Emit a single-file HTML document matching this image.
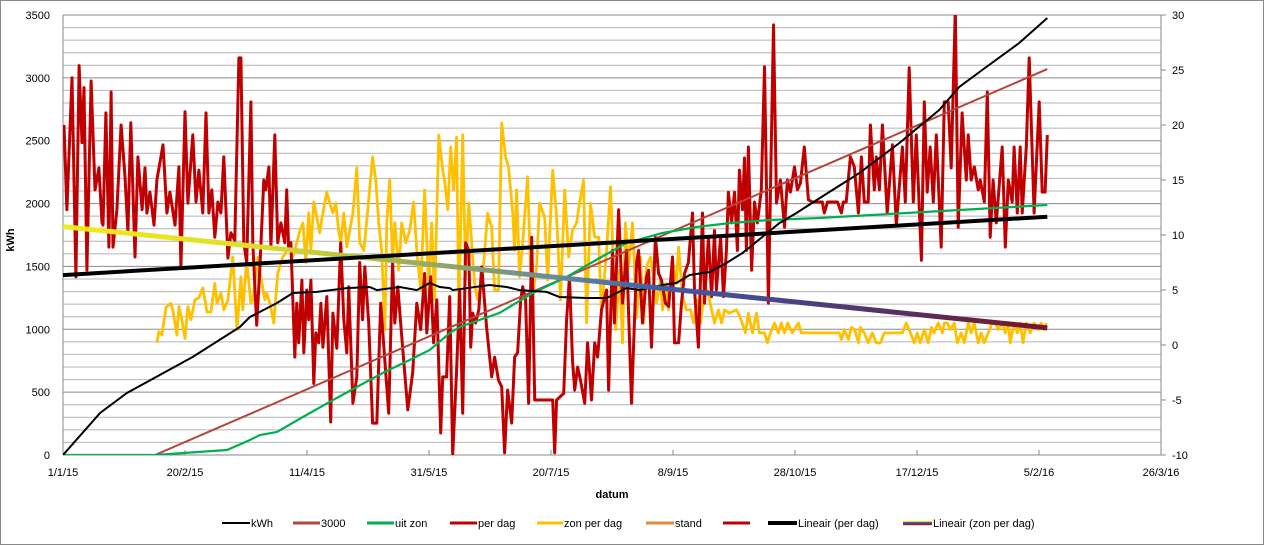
<!DOCTYPE html>
<html><head><meta charset="utf-8"><style>
html,body{margin:0;padding:0;background:#fff;}
svg{display:block;font-family:"Liberation Sans",sans-serif;}
</style></head><body>
<svg id="chart" width="1264" height="545" viewBox="0 0 1264 545" xmlns="http://www.w3.org/2000/svg">
<defs>
<clipPath id="plotClip"><rect x="63" y="15" width="1098" height="440"/></clipPath>
<linearGradient id="zonTrendGrad" gradientUnits="userSpaceOnUse" x1="63" y1="0" x2="1048" y2="0">
<stop offset="0" stop-color="#f2ea1e"/><stop offset="0.2" stop-color="#dede2a"/><stop offset="0.35" stop-color="#9eb055"/>
<stop offset="0.5" stop-color="#6a8a98"/><stop offset="0.6" stop-color="#3d5fa8"/><stop offset="0.75" stop-color="#4c3f80"/>
<stop offset="0.88" stop-color="#5c2a55"/><stop offset="1" stop-color="#7c1428"/>
</linearGradient>
</defs>
<rect x="0.5" y="0.5" width="1263" height="544" fill="#fff" stroke="#888"/>
<g id="grid"></g>
<g id="axes"></g>
<g id="series" clip-path="url(#plotClip)"></g>
<text x="14" y="240" transform="rotate(-90 14 240)" text-anchor="middle" font-size="11" font-weight="bold">kWh</text>
<text x="612" y="498" text-anchor="middle" font-size="11" font-weight="bold">datum</text>
<g id="legend"></g>
</svg>
<script>
const xTickLabels = ["1/1/15","20/2/15","11/4/15","31/5/15","20/7/15","8/9/15","28/10/15","17/12/15","5/2/16","26/3/16"];
const leftTicks = [0,500,1000,1500,2000,2500,3000,3500];
const rightTicks = [-10,-5,0,5,10,15,20,25,30];

const kwhDay = [0,15.2,26.2,53.2,72.5,76.6,80.7,87.7,94.2,104,116.3,125.7,128.6,138,145,150.3,154.4,158.5,159.7,174.8,181.8,187.1,198.2,203.5,214.6,222.8,226.9,231,236.3,245.7,251.4,256.8,265,271.9,278.5,286.6,293.6,300.6,308.8,326.4,342.8,359.1,367.3,378.4,391.9,403.4];
const kwhVal = [0,334,493,780,1018,1098,1138,1209,1289,1297,1328,1336,1312,1336,1312,1368,1336,1328,1312,1352,1336,1312,1297,1257,1249,1249,1289,1328,1312,1352,1368,1432,1456,1527,1607,1734,1845,1925,2028,2243,2482,2744,2927,3086,3277,3476];

const refDay = [37.7,403.4];
const refVal = [0,3070];

const uitZonDay = [0,37.7,67.2,76.6,80.7,87.7,98.3,110.6,120.4,131,142.1,150.3,158.5,162.6,178.9,192.5,206.4,219.9,230.9,245.7,259.6,273.1,289.5,310,403.4];
const uitZonVal = [0,0,40,119,159,183,302,437,541,652,756,835,970,1018,1130,1289,1416,1567,1686,1766,1814,1845,1869,1885,1989];

const perDagDay = [0.4,1.6,3.7,5.3,6.6,7.8,8.6,9.8,11.5,13.1,14.7,16,16.4,17.6,18.8,19.7,20.5,22.1,23.8,25.4,26.6,27.8,29.5,30.7,32.4,33.6,34.4,35.6,37.3,38.5,41,42.6,43.8,45.9,47.5,48.3,50,51.2,53.2,54.5,55.7,57.3,58.6,59.8,61,62.2,63.5,64.7,65.9,67.6,68.8,70.4,72.1,72.9,74.1,75.3,77,77.8,79.4,80.7,82.3,83.1,84.4,85.2,86.8,88,89.3,90.9,91.7,92.5,93.4,95,95.8,96.6,97.9,98.7,99.9,100.7,101.6,102.8,103.6,104.8,105.7,106.5,108.1,109.7,110.6,111.8,112.2,113.8,115.1,116.3,117.1,118.8,120.4,121.6,122.8,123.7,125.3,126.9,128.6,130.2,131.8,133.5,135.1,136,137.2,139.2,141.3,143.3,145,146.6,148.2,149.1,150.7,151.9,153.2,154.8,155.6,157.2,158.5,159.7,161.3,162.6,163.8,165,166.3,167.1,167.9,169.1,170.4,171.6,173.6,175.7,176.9,178.5,179.8,181,182.2,183.9,185.1,186.3,187.6,188.4,189.6,190.8,192.1,193.3,200.7,201.5,202.3,205.2,206.4,207.6,208.8,209.7,210.9,212.1,213.8,215,216.6,217.9,219.1,220.7,222.8,223.6,225.2,226,227.7,229.3,231,233,235.1,235.9,237.5,239.1,240,241.2,242.8,244.1,245.3,246.9,248.2,249.8,250.6,252.3,253.5,254.7,256.3,258,258.8,260.4,262.1,262.9,264.5,265.8,267,267.8,269.5,270.7,271.9,272.7,274,275.2,276.4,277.2,278.5,279.3,280.1,280.9,282.2,283.4,284.6,286.2,287.5,289.1,291.2,292.4,294,295.7,296.9,298.1,299.8,301,302.2,303.8,305.5,307.1,311.2,312,313.3,317.4,319,319.8,321,322.7,324.3,326,327.2,328.4,330,330.9,332.5,333.3,334.6,335.8,337.8,339.9,341.5,344,345.2,346.8,348.5,349.7,351.8,353,354.2,355.4,356.7,357.9,359.9,361.2,362.8,364,365.7,366.9,368.5,370.2,371,372.2,373.5,375.1,375.9,377.6,378.8,380,381.2,382.5,384.9,386.2,387.4,389,389.8,391.1,392.3,393.1,394.8,396,398,400.1,401.3,402.5,403.4];
const perDagVal = [20,12.3,24.3,6.2,25.4,18.4,23.4,6.8,24,14.1,16.1,11.1,10.9,21.1,8.9,23,8.9,12.3,20,15.3,10.3,20.2,8,17.1,12.3,16.1,12,13.9,10.9,15,18.2,12,13.9,10.9,16.2,7,21.2,12.9,19.1,13,15.9,12,21.1,12,14.1,9.8,13,12,17.1,7.9,10.2,9.5,26.1,26.1,9.3,7.5,22.1,9.3,1.8,7.1,15,14.1,16.2,8.9,19.1,9.3,11.1,9.3,14.1,8.6,9.3,-1.1,3.8,0.2,5.9,-0.7,5,2.3,5.9,-3.5,1.1,0.2,3.8,-0.2,4.4,-7,2.9,0.5,-0.3,9.3,2.3,-0.7,5.3,-5.3,-2.9,7.5,2.3,7.1,2,-7.1,-7.1,3.8,-1.1,-6.2,7.5,2,5.3,-0.2,-5.9,-2.5,3.8,1.4,6.5,1.1,6.2,0.2,4.1,-8,-2.9,-2.9,4.4,-10,-2.3,5,-6.2,9.3,8.6,-0.2,2.9,2,3.2,7.1,1.6,-2.9,-1.1,-3.2,-3.8,-9.8,-4.1,-7.1,-1.1,-0.7,4.1,5.3,4.1,-5.3,9.8,-5,-5,-9.8,-5,-4.4,2.3,6.2,-1.4,-4.1,-2,-3.2,-5.3,0.2,-5,0.2,-1.1,3.2,5,-4.1,8.6,2,12.3,3.8,8.6,-5.3,7.5,8.6,2,6.2,6.8,-0.2,9.8,6.5,5.9,3.8,3.5,8,0.2,0.2,3.8,6.5,7.5,12,5,-0.2,12,3.8,9.8,4.4,10.4,5,9.8,4.4,8.6,13.9,11.1,13.9,8.6,15.9,12.3,17,8.6,18,6.8,13,11.1,14.1,25.3,3.8,29.1,12.9,15,10.7,15,13.9,16.2,14.1,14.7,18,13.2,13,13,12,13,13,12,13,13,17.1,16.2,12,17.1,13,13,20,14.1,17.1,14.1,20,12,18.2,10.9,18,13,25.2,13,19.1,7.7,22.1,13.9,18,13,19.1,8.9,22.1,22.1,16.1,30.5,10.7,21.1,15,19.1,15,16.2,14.1,15,13,23,9.8,15,11.1,18,8.9,15,13,18,12,18,12,18,26.1,12,22.1,13.9,13.9,19.1];

const zonDay = [38.5,39.3,40.5,42.2,44.2,45,46.7,47.5,48.7,50,51.2,52.4,54.1,55.7,57.3,59,60.6,62.2,63.1,64.7,65.9,67.6,69.6,71.3,72.9,73.7,75.3,77,77.8,79.9,81.1,82.7,83.5,84.8,86.4,88,90.1,91.3,93,94.2,95.8,97.1,98.3,99.5,100.7,101.6,102.8,104,105.2,106.5,108.1,109.3,110.6,111.8,113,113.8,115.1,116.3,117.5,118.8,120.4,121.6,123.3,124.9,126.9,128.2,129.4,130.6,131.9,132.7,133.9,135.1,136,137.6,138.8,140.5,142.1,143.7,145,146.6,148.2,149.9,151.1,152.3,154,155.6,156.4,157.7,158.9,160.1,161.3,162.2,163.8,165,166.3,167.5,168.7,169.9,172,174,175.7,176.9,178.5,179.8,181.4,182.6,184.3,185.1,185.9,187.1,188.4,190.4,192.1,194.1,195.3,197.4,198.6,200.7,202.3,203.9,205.6,207.2,208.8,210.5,211.7,213.3,214.6,216.2,217.9,219.5,220.7,222.8,224.4,226.5,228.1,229.3,230.5,231.8,233.4,235.1,236.7,237.9,239.1,240.8,242,243.2,244.9,245.7,247.3,248.2,249.8,251.4,252.3,253.9,255.5,257.2,258.4,260,261.3,262.9,264,265.8,267,268.6,269.9,271.1,273.1,276,277.6,279.7,280.9,282.6,284.2,285.4,287.5,288.7,289.9,291.6,293.2,294.4,295.7,297,298.9,301.4,302.6,318.2,319,320.2,321.9,323.1,324.5,326,326.8,328.4,330,331.7,333.3,335,336.6,344,345.6,347.3,348.9,350.1,351.3,353,354.6,355.9,357,358.7,360.4,361.2,362.5,363.6,365.3,366.5,368.1,369.4,371,372.2,373.5,375.1,376.3,377.6,379.2,380.8,382.1,383.3,384.9,386.2,387.4,388.2,389.8,391.1,392.3,393.5,394.8,396.4,398,399.7,400.9,402.1,403];
const zonVal = [0.2,1.2,0.9,3.4,3.8,3.2,0.9,3.5,2.3,0.6,3.5,2.3,4.1,4.3,5.2,3,3,5.6,3.8,4.7,3.2,4.1,8,1.4,6.2,3.2,7.7,3.8,4.1,8,6.2,4.1,4.7,3.8,2,6.5,8,8.4,9.3,8,9.3,10.4,11.1,7.5,12,8.6,13,11.6,10.2,12,13.9,12.9,12,12.9,10.4,9.3,12,8.9,10.4,12,16.1,9.3,8.6,12.3,17.1,15,11.1,8.6,1.4,11.1,15,7.5,11.1,6.8,11.1,9.3,10.4,13,8.6,5,14.1,5,11.1,4.1,19.1,15.9,15,12.3,18,14.1,18.9,3.2,19.1,6.2,12.9,9.3,5.6,4.1,6.2,12,10.7,5,5,20.2,17.1,16.2,12,8.6,14.1,6.2,9.3,15.3,3.8,7.1,12.9,11.6,5.9,15.9,11.6,4.1,14.1,8,10.4,11.1,12.9,15,2,12.9,9.8,9.8,2.9,8.6,14.4,1.4,6.8,0.2,11.1,7.1,11.1,2.5,8,2,7.1,8,6.2,3.8,5.9,3.2,5.6,3.2,7.7,5.6,8.9,4.4,3.2,3.2,2,4.1,2,5,5,3.2,2,3.2,2,3.2,2.9,3.2,2.5,1.1,2.9,1.1,2.9,1.1,1.1,0.2,1.1,2,1.1,2,1.1,2,1.1,2,1.1,1.1,0.5,1.4,0.5,1.6,1.4,0.2,1.6,1.1,0.2,1.1,0.2,0.2,1.1,1.1,2,1.1,0.2,1.1,0.2,1.4,0.2,1.6,1.1,2,1.1,2,2,1.4,2,0.2,1.1,0.2,2,1.1,2,0.2,1.1,0.2,1.1,2,2,1.4,2,1.1,2,0.2,2,1.1,2,0.2,2,1.1,2,1.4,2,1.4,2];

const NS = "http://www.w3.org/2000/svg";
const X0 = 63, X1 = 1161, Y0 = 455, Y1 = 15;
const xScale = d => X0 + d * (X1 - X0) / 450;
const yLeft = v => Y0 - v * (Y0 - Y1) / 3500;
const yRight = v => Y0 - (v + 10) * (Y0 - Y1) / 40;

function mk(tag, attrs, parent) {
  const el = document.createElementNS(NS, tag);
  for (const k in attrs) el.setAttribute(k, attrs[k]);
  parent.appendChild(el);
  return el;
}
const grid = document.getElementById('grid');
const axes = document.getElementById('axes');
const series = document.getElementById('series');
const legend = document.getElementById('legend');

for (let v = 100; v <= 3500; v += 100) {
  const y = yLeft(v);
  const ln = mk('line', {x1: X0, x2: X1, y1: y, y2: y, stroke: v % 500 === 0 ? '#8c8c8c' : '#b4b4b4', 'stroke-width': 1}, grid);
  
  
}
const la = mk('line', {x1: X0, x2: X0, y1: Y1, y2: Y0, stroke: '#888'}, axes);


const ra = mk('line', {x1: X1, x2: X1, y1: Y1, y2: Y0, stroke: '#888'}, axes);


const ba = mk('line', {x1: X0, x2: X1, y1: Y0, y2: Y0, stroke: '#888'}, axes);



leftTicks.forEach(v => {
  const t = mk('text', {x: 50, y: yLeft(v) + 4, 'text-anchor': 'end', 'font-size': 11, fill: '#000'}, axes);
  t.textContent = v;
  
  
});
rightTicks.forEach(v => {
  const t = mk('text', {x: 1172, y: yRight(v) + 4, 'text-anchor': 'start', 'font-size': 11, fill: '#000'}, axes);
  t.textContent = v;
  
  
  const tk = mk('line', {x1: X1, x2: X1 + 5, y1: yRight(v), y2: yRight(v), stroke: '#888'}, axes);
  
  
});
xTickLabels.forEach((lab, i) => {
  const x = xScale(i * 50);
  const t = mk('text', {x: x, y: 476, 'text-anchor': 'middle', 'font-size': 11, fill: '#000'}, axes);
  t.textContent = lab;
  
  
  const tk = mk('line', {x1: x, x2: x, y1: Y0, y2: Y0 - 5, stroke: '#888'}, axes);
  
  
});

function pathFrom(days, vals, yf) {
  return days.map((d, i) => (i ? 'L' : 'M') + xScale(d).toFixed(1) + ' ' + yf(vals[i]).toFixed(1)).join(' ');
}
function regress(xs, ys) {
  const n = xs.length;
  let sx = 0, sy = 0, sxx = 0, sxy = 0;
  for (let i = 0; i < n; i++) { sx += xs[i]; sy += ys[i]; sxx += xs[i] * xs[i]; sxy += xs[i] * ys[i]; }
  const b = (n * sxy - sx * sy) / (n * sxx - sx * sx);
  return {a: (sy - b * sx) / n, b: b};
}

const zonSeries = mk('path', {d: pathFrom(zonDay, zonVal, yRight), fill: 'none', stroke: '#ffc000', 'stroke-width': 2.8, 'stroke-linejoin': 'round'}, series);



const perDag = mk('path', {d: pathFrom(perDagDay, perDagVal, yRight), fill: 'none', stroke: '#c00000', 'stroke-width': 3, 'stroke-linejoin': 'round'}, series);



const ref = mk('path', {d: pathFrom(refDay, refVal, yLeft), fill: 'none', stroke: '#b5453f', 'stroke-width': 2}, series);



const uit = mk('path', {d: pathFrom(uitZonDay, uitZonVal, yLeft), fill: 'none', stroke: '#00b050', 'stroke-width': 2.2}, series);



const kwh = mk('path', {d: pathFrom(kwhDay, kwhVal, yLeft), fill: 'none', stroke: '#000', 'stroke-width': 2}, series);



const endDay = perDagDay[perDagDay.length - 1];
const rz = regress(zonDay, zonVal);
const zt = mk('line', {x1: xScale(0), y1: yRight(rz.a), x2: xScale(endDay), y2: yRight(rz.a + rz.b * endDay), stroke: 'url(#zonTrendGrad)', 'stroke-width': 5}, series);



const rp = regress(perDagDay, perDagVal);
const pt = mk('line', {x1: xScale(0), y1: yRight(rp.a), x2: xScale(endDay), y2: yRight(rp.a + rp.b * endDay), stroke: '#000', 'stroke-width': 4}, series);



const legendItems = [
  ['kWh', 222, 250, '#000', 2, 'legend-kwh'],
  ['3000', 293, 320, '#b5453f', 3, 'legend-3000'],
  ['uit zon', 367, 394, '#00b050', 3, 'legend-uit-zon'],
  ['per dag', 450, 477, '#c00000', 3, 'legend-per-dag'],
  ['zon per dag', 537, 563, '#ffc000', 3, 'legend-zon-per-dag'],
  ['stand', 646, 674, '#e08a3c', 3, 'legend-stand'],
  ['', 723, 750, '#c00000', 3, 'legend-red'],
  ['Lineair (per dag)', 768, 797, '#000', 4, 'legend-trend-per-dag']
];
legendItems.forEach(it => {
  const g = mk('g', {}, legend);
  
  
  mk('line', {x1: it[1], x2: it[2], y1: 523, y2: 523, stroke: it[3], 'stroke-width': it[4]}, g);
  if (it[0]) {
    const t = mk('text', {x: it[2] + 1, y: 527, 'font-size': 11, fill: '#000'}, g);
    t.textContent = it[0];
  }
});
const gz = mk('g', {}, legend);


['#e8e020', '#4060a8', '#6a3070', '#a01828'].forEach((c, i) => {
  mk('rect', {x: 903, y: 521 + i, width: 29, height: 1.2, fill: c}, gz);
});
const tz = mk('text', {x: 933, y: 527, 'font-size': 11, fill: '#000'}, gz);
tz.textContent = 'Lineair (zon per dag)';
</script>
</body></html>
